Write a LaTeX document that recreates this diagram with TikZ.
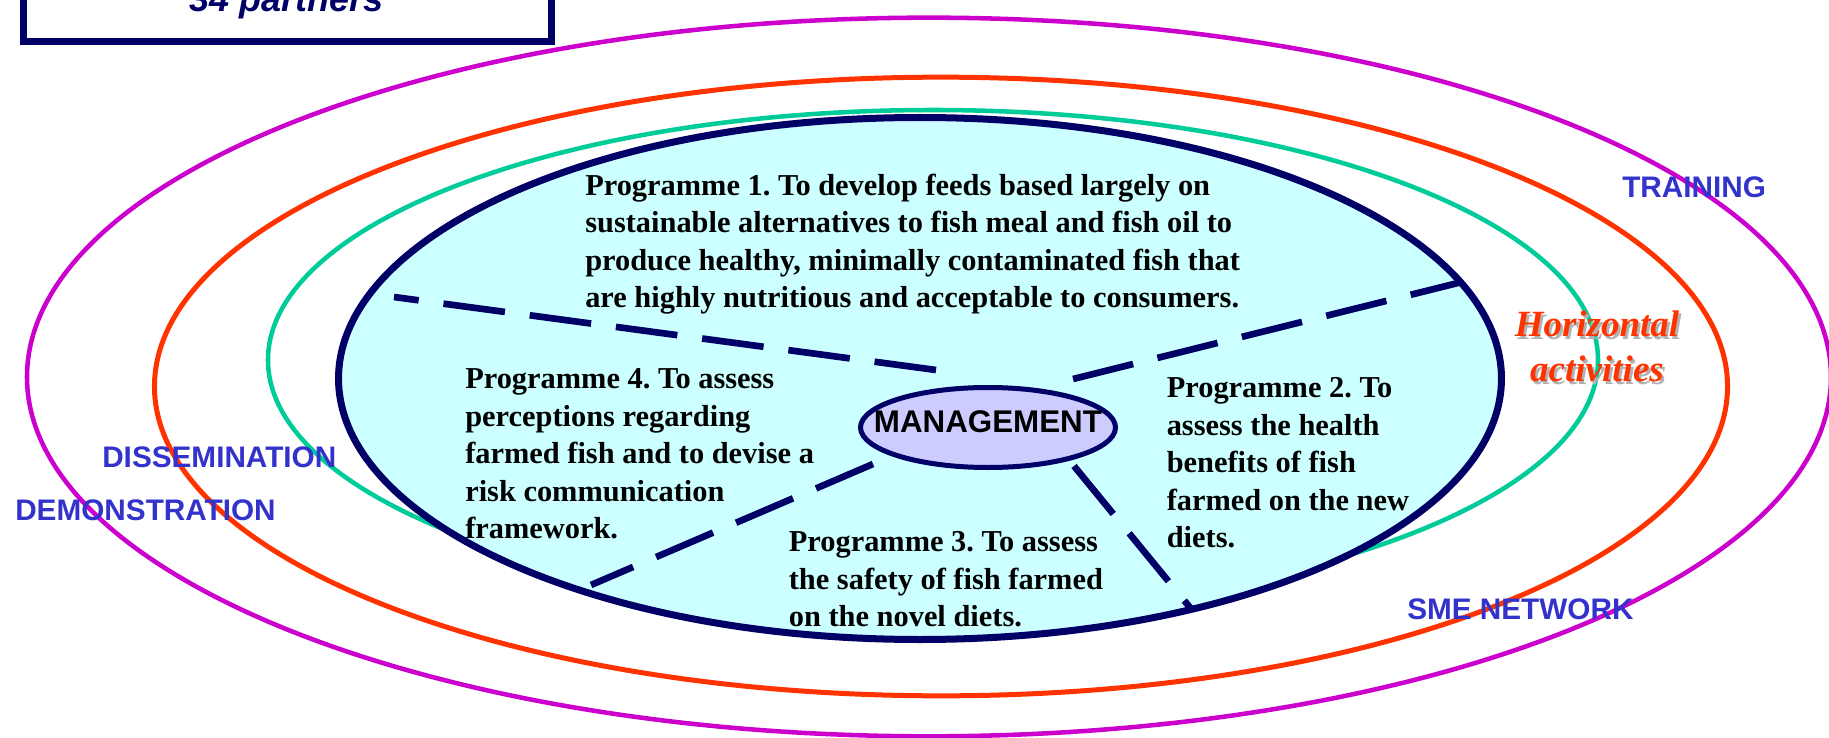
\documentclass[tikz,border=0pt]{standalone}
\usepackage{fontspec}
\setmainfont{Liberation Serif}
\setsansfont{Liberation Sans}
\usetikzlibrary{positioning}
\usetikzlibrary{shapes}
\usepackage{xcolor}
\definecolor{navy}{HTML}{000066}
\definecolor{ringm}{HTML}{CC00CC}
\definecolor{ringr}{HTML}{FF3300}
\definecolor{ringg}{HTML}{00CC99}
\definecolor{core}{HTML}{CCFFFF}
\definecolor{mgmt}{HTML}{CCCCFF}
\definecolor{labblue}{HTML}{3333CC}
\frenchspacing

\begin{document}
\begin{tikzpicture}[x=0.75pt, y=-0.75pt,
        prog/.style={font=\bfseries\fontsize{22.8}{28.1}\selectfont, align=left, anchor=north west, inner sep=0},
        lab/.style={font=\sffamily\bfseries\fontsize{22.3}{26}\selectfont, text=labblue, anchor=base west, inner sep=0},
        sep/.style={draw=navy, line width=5pt, dash pattern=on 46.5pt off 18.75pt},
        hz/.style={font=\bfseries\itshape\fontsize{27.75}{33.75}\selectfont, align=center, anchor=north, inner sep=0}]
            \useasboundingbox (0,0) rectangle (1829,738);
            \clip (0,0) rectangle (1829,738);

            \draw[navy, line width=5.25pt] (23,-60) rectangle (551,42);
            \node[font=\sffamily\bfseries\itshape\fontsize{27}{30}\selectfont, text=navy, anchor=base west, inner sep=0] (parts) at (189,12) {34 partners};

            \draw[ringm, line width=3.4pt] (929,377) ellipse [x radius=676.5pt, y radius=269.5pt];
            \draw[ringr, line width=3.75pt] (941,386.5) ellipse [x radius=589.9pt, y radius=232pt];
            \draw[ringg, line width=3.4pt] (933,360) ellipse [x radius=498.75pt, y radius=187.5pt];
            \draw[navy, fill=core, line width=5.25pt] (920,378.5) ellipse [x radius=436.1pt, y radius=195.75pt];

            \coordinate (a1) at (936,370);
            \coordinate (a2) at (394,297);
            \coordinate (b1) at (1073,379);
            \coordinate (b2) at (1462,282);
            \coordinate (c1) at (873,464);
            \coordinate (c2) at (591,585);
            \coordinate (d1) at (1074,466);
            \coordinate (d2) at (1192,610);
            \draw[sep] (a1) -- (a2);
            \draw[sep] (b1) -- (b2);
            \draw[sep] (c1) -- (c2);
            \draw[sep] (d1) -- (d2);

            \node[ellipse, draw=navy, fill=mgmt, line width=3.75pt, minimum width=191.25pt, minimum height=60pt, inner sep=0] (m) at (988,427.5) {};
            \node[font=\sffamily\bfseries\fontsize{23.5}{26}\selectfont, inner sep=0] (mt) at (988,422) {MANAGEMENT};

            \node[prog] (p1) at (585,173.5) {Programme 1. To develop feeds based largely on\\sustainable alternatives to fish meal and fish oil to\\produce healthy, minimally contaminated fish that\\are highly nutritious and acceptable to consumers.};
            \node[prog] (p4) at (465,368.5) {Programme 4. To assess\\perceptions regarding\\farmed fish and to devise a\\risk communication\\framework.};
            \node[prog] (p2) at (1166.5,377.5) {Programme 2. To\\assess the health\\benefits of fish\\farmed on the new\\diets.};
            \node[prog] (p3) at (788.6,531.5) {Programme 3. To assess\\the safety of fish farmed\\on the novel diets.};

            \node[lab] (tr) at (1622,198) {TRAINING};
            \node[lab] (dis) at (102,467) {DISSEMINATION};
            \node[lab] (dem) at (15,520) {DEMONSTRATION};
            \node[lab] (sme) at (1407,619) {SME NETWORK};

            \node[hz, text=black!30] (hs) at (1599.5,313.5) {Horizontal\\activities};
            \node[hz, text=ringr] (h) at (1597,311) {Horizontal\\activities};
        \end{tikzpicture}
\end{document}
